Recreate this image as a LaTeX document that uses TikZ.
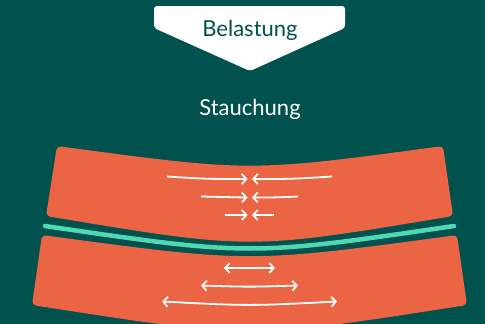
\documentclass[tikz,border=0pt]{standalone}
\usepackage{fontspec}
\setmainfont{Lato}
\usetikzlibrary{arrows.meta}
\definecolor{bgteal}{HTML}{01524F}
\definecolor{slab}{HTML}{EB6443}
\definecolor{mint}{HTML}{4FD8B2}
\tikzset{
  slabshape/.style={fill=slab, rounded corners=4pt},
  force/.style={draw=white, line width=1.8pt, -{Straight Barb[length=4.5pt,width=10pt,line width=1.8pt]}},
  stretch/.style={draw=white, line width=1.8pt, {Straight Barb[length=4.5pt,width=10pt,line width=1.8pt]}-{Straight Barb[length=4.5pt,width=10pt,line width=1.8pt]}},
  lbl/.style={font=\fontsize{22}{24}\selectfont, inner sep=0pt, anchor=base}
}
\begin{document}
\begin{tikzpicture}[x=1pt,y=-1pt]
\fill[bgteal] (0,0) rectangle (485,324);
\useasboundingbox (0,0) rectangle (485,324);
% banner
\fill[white, rounded corners=3pt] (250,71) -- (154,28) -- (154,6) -- (345,6) -- (345,28) -- cycle;
\node[lbl, text=bgteal] (belastung) at (250,36) {Belastung};
\node[lbl, text=white] (stauchung) at (250,115) {Stauchung};
% upper slab
\path[slabshape] (57,146) .. controls (250,172) .. (443,146) -- (453,216) .. controls (250,250) .. (46,216) -- cycle;
% mint line
\draw[mint, line width=4.5pt, line cap=round] (45,226) .. controls (250,256) .. (454,226);
% lower slab
\path[slabshape] (42,235) .. controls (250,263) .. (457,235) -- (467,305) .. controls (250,339) .. (32,305) -- cycle;
% compression arrows
\coordinate (a1l) at (167,176.5); \coordinate (a1m) at (247.5,179); \coordinate (a1n) at (252,179); \coordinate (a1r) at (332,176.5);
\coordinate (a2l) at (201,196.5); \coordinate (a2m) at (247.5,197.5); \coordinate (a2n) at (252,197.5); \coordinate (a2r) at (298,196.5);
\coordinate (a3l) at (225,215); \coordinate (a3m) at (247.5,215); \coordinate (a3n) at (252,215); \coordinate (a3r) at (274,215);
\draw[force] (a1l) .. controls (207,179) .. (a1m);
\draw[force] (a1r) .. controls (292,179) .. (a1n);
\draw[force] (a2l) .. controls (224,197.5) .. (a2m);
\draw[force] (a2r) .. controls (275,197.5) .. (a2n);
\draw[force] (a3l) -- (a3m);
\draw[force] (a3r) -- (a3n);
% tension arrows
\coordinate (b1l) at (224,268); \coordinate (b1r) at (275,268);
\coordinate (b2l) at (201,285.5); \coordinate (b2r) at (298,285.5);
\coordinate (b3l) at (162,301.5); \coordinate (b3r) at (337,301.5);
\draw[stretch] (b1l) -- (b1r);
\draw[stretch] (b2l) .. controls (249.5,287) .. (b2r);
\draw[stretch] (b3l) .. controls (249.5,306) .. (b3r);
\end{tikzpicture}
\end{document}
